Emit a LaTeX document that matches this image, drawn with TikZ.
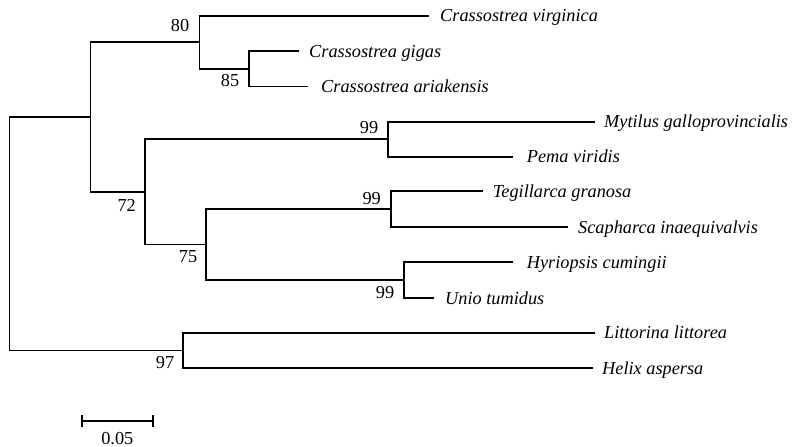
\documentclass[tikz,border=0pt]{standalone}
\usepackage{fontspec}
\setmainfont{Liberation Serif}
\begin{document}
\begin{tikzpicture}[x=1pt,y=-1pt,
  branch/.style={line width=1.7pt, line cap=rect},
  taxon/.style={anchor=base west, inner sep=0pt, font=\fontsize{18.3}{20}\selectfont\itshape},
  boot/.style={anchor=center, inner sep=0pt, font=\fontsize{18.3}{20}\selectfont}]
\useasboundingbox (0,0) rectangle (793,447);
% internal nodes
\coordinate (root) at (9.5,233.7);
\coordinate (A) at (90.5,117);
\coordinate (B) at (199.5,42.3);
\coordinate (C) at (145.2,191.7);
\coordinate (D) at (248.7,68.7);
\coordinate (E) at (387.7,139.2);
\coordinate (F) at (206.3,244.5);
\coordinate (G) at (391,209.3);
\coordinate (H) at (404.3,280.3);
\coordinate (I) at (182.7,350.4);
% tips
\coordinate (t1) at (428,15.7);
\coordinate (t2) at (298,51);
\coordinate (t3) at (307,86.4);
\coordinate (t4) at (594,121.7);
\coordinate (t5) at (511.7,156.7);
\coordinate (t6) at (481.7,191.3);
\coordinate (t7) at (566.7,227.3);
\coordinate (t8) at (512,262.3);
\coordinate (t9) at (433,298.3);
\coordinate (t10) at (594,332.7);
\coordinate (t11) at (591.7,368);
% branches
\draw[branch] (root) |- (A);
\draw[branch] (root) |- (I);
\draw[branch] (A) |- (B);
\draw[branch] (A) |- (C);
\draw[branch] (B) |- (t1);
\draw[branch] (B) |- (D);
\draw[branch] (D) |- (t2);
\draw[branch] (D) |- (t3);
\draw[branch] (C) |- (E);
\draw[branch] (C) |- (F);
\draw[branch] (E) |- (t4);
\draw[branch] (E) |- (t5);
\draw[branch] (F) |- (G);
\draw[branch] (F) |- (H);
\draw[branch] (G) |- (t6);
\draw[branch] (G) |- (t7);
\draw[branch] (H) |- (t8);
\draw[branch] (H) |- (t9);
\draw[branch] (I) |- (t10);
\draw[branch] (I) |- (t11);
% taxa
\node[taxon] (l1) at (440,21.7) {Crassostrea virginica};
\node[taxon] (l2) at (309,57) {Crassostrea gigas};
\node[taxon] (l3) at (321,92.4) {Crassostrea ariakensis};
\node[taxon] (l4) at (604,127.7) {Mytilus galloprovincialis};
\node[taxon] (l5) at (526.7,162.7) {Pema viridis};
\node[taxon] (l6) at (492.7,197.3) {Tegillarca granosa};
\node[taxon] (l7) at (578,233.3) {Scapharca inaequivalvis};
\node[taxon] (l8) at (526.7,268.3) {Hyriopsis cumingii};
\node[taxon] (l9) at (445,304.3) {Unio tumidus};
\node[taxon] (l10) at (604,338.7) {Littorina littorea};
\node[taxon] (l11) at (602,374) {Helix aspersa};
% bootstrap values
\node[boot] (b80) at (180,25.7) {80};
\node[boot] (b85) at (230,81) {85};
\node[boot] (b72) at (126.7,205) {72};
\node[boot] (b75) at (188,256.7) {75};
\node[boot] (b99a) at (369,128) {99};
\node[boot] (b99b) at (371.7,198.3) {99};
\node[boot] (b99c) at (385,292.7) {99};
\node[boot] (b97) at (165,362.7) {97};
% scale bar
\coordinate (s1) at (82.3,420.7);
\coordinate (s2) at (152.7,420.7);
\draw[branch, line cap=butt] (s1) -- (s2);
\draw[branch, line cap=butt] ([yshift=-6pt]s1) -- ([yshift=6pt]s1);
\draw[branch, line cap=butt] ([yshift=-6pt]s2) -- ([yshift=6pt]s2);
\node[boot] (scale) at (117.3,438.3) {0.05};
\end{tikzpicture}
\end{document}
